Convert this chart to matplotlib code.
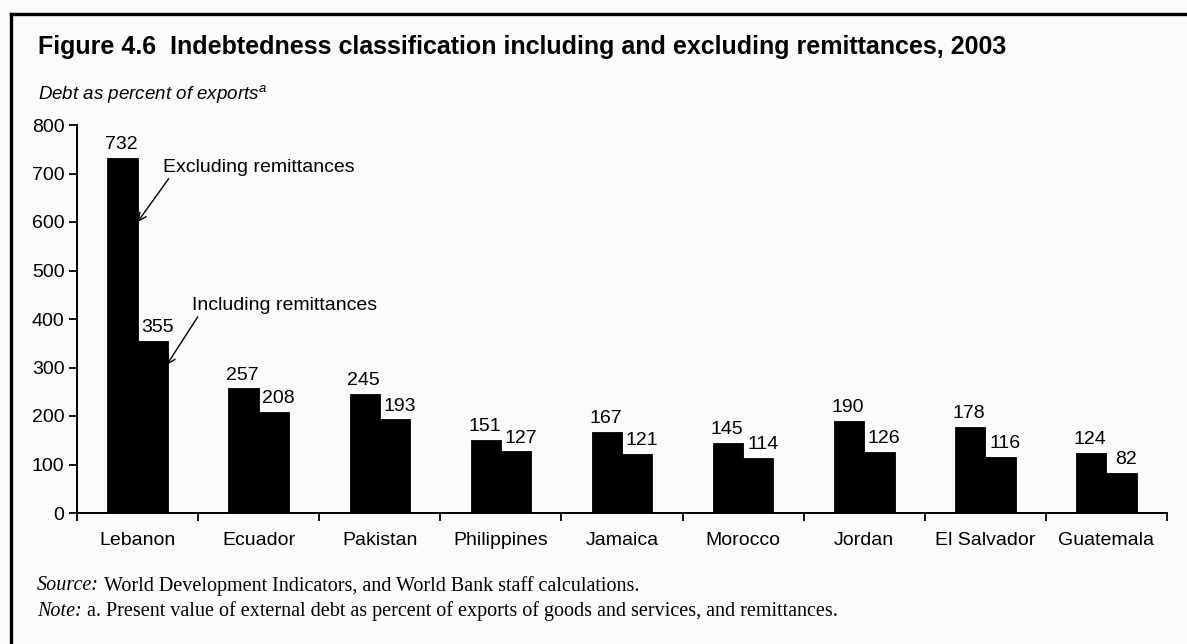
import numpy as np
import matplotlib
matplotlib.use("Agg")
import matplotlib.pyplot as plt
from matplotlib.lines import Line2D

countries = ["Lebanon", "Ecuador", "Pakistan", "Philippines", "Jamaica",
             "Morocco", "Jordan", "El Salvador", "Guatemala"]
excluding = [732, 257, 245, 151, 167, 145, 190, 178, 124]
including = [355, 208, 193, 127, 121, 114, 126, 116, 82]
yticks = [0, 100, 200, 300, 400, 500, 600, 700, 800]

plt.rcParams['font.family'] = ['Liberation Sans', 'DejaVu Sans']

W, H = 1187, 644
fig = plt.figure(figsize=(W / 100, H / 100), dpi=100)
fig.patch.set_facecolor('#fbfbfb')

# frame of the box (left and top edges)
fig.add_artist(Line2D([11 / W, 11 / W], [0, 1 - 14 / H], color='black', lw=2.4))
fig.add_artist(Line2D([11 / W, 1], [1 - 14 / H, 1 - 14 / H], color='black', lw=2.4))

fig.text(38 / W, 1 - 47 / H, "Figure 4.6  Indebtedness classification including and excluding remittances, 2003",
         fontsize=18, fontweight='bold', va='center', ha='left')
fig.text(38 / W, 1 - 95 / H, r"Debt as percent of exports$^{\mathregular{a}}$",
         fontsize=13.5, style='italic', va='center', ha='left')

ax = fig.add_axes([77 / W, 1 - 513 / H, (1167 - 77) / W, (513 - 125) / H])
ax.set_facecolor('none')

fs = 14
x = np.arange(len(countries)) + 0.5
w = 0.25
ax.bar(x - w / 2, excluding, w, color='black', edgecolor='black', linewidth=0.6)
ax.bar(x + w / 2, including, w, color='black', edgecolor='black', linewidth=0.6)

for xi, v in zip(x - w / 2, excluding):
    ax.text(xi - 0.01, v + 10, str(v), ha='center', va='bottom', fontsize=fs)
for xi, v in zip(x + w / 2, including):
    ax.text(xi + 0.04, v + 10, str(v), ha='center', va='bottom', fontsize=fs)

ax.set_xlim(0, len(countries))
ax.set_ylim(0, 800)
ax.set_yticks(yticks)
ax.set_yticklabels([str(t) for t in yticks], fontsize=fs)
ax.set_xticks(np.arange(len(countries) + 1))
ax.set_xticklabels([])
ax.set_xticks(x, minor=True)
ax.set_xticklabels(countries, minor=True, fontsize=fs)
ax.tick_params(axis='x', which='minor', length=0, pad=14)
ax.tick_params(axis='x', which='major', length=6, width=1.3, direction='out')
ax.tick_params(axis='y', length=6, width=1.3, direction='out', pad=3)

for s in ['top', 'right']:
    ax.spines[s].set_visible(False)
for s in ['left', 'bottom']:
    ax.spines[s].set_linewidth(1.4)

ax.annotate("Excluding remittances", xy=(0.5, 600), xytext=(0.71, 695),
            fontsize=fs, ha='left', va='bottom',
            arrowprops=dict(arrowstyle='->', color='black', lw=1,
                            shrinkA=0, shrinkB=0, relpos=(0.04, 0)))
ax.annotate("Including remittances", xy=(0.74, 305), xytext=(0.95, 410),
            fontsize=fs, ha='left', va='bottom',
            arrowprops=dict(arrowstyle='->', color='black', lw=1,
                            shrinkA=0, shrinkB=0, relpos=(0.04, 0)))

# source and note lines (italic lead word, then roman text)
renderer = fig.canvas.get_renderer()
notes = [("Source:", "World Development Indicators, and World Bank staff calculations.", 586),
         ("Note:", "a. Present value of external debt as percent of exports of goods and services, and remittances.", 611)]
for lead, rest, ypix in notes:
    t = fig.text(37 / W, 1 - ypix / H, lead, family='Liberation Serif', style='italic',
                 fontsize=14.5, va='center', ha='left')
    bb = t.get_window_extent(renderer)
    fig.text((bb.x1 + 5) / W, 1 - ypix / H, rest, family='Liberation Serif',
             fontsize=14.5, va='center', ha='left')

fig.savefig("out.png", dpi=100, facecolor=fig.get_facecolor())
